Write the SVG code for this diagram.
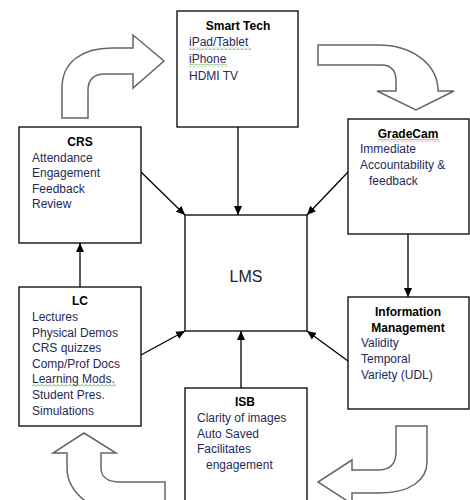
<svg xmlns="http://www.w3.org/2000/svg" width="470" height="500" viewBox="0 0 470 500">
<defs>
<style>
.box{fill:#fff;stroke:#000;stroke-width:1.3}
.blk{fill:#fff;stroke:#666;stroke-width:1.5;stroke-linejoin:miter}
.con{fill:none;stroke:#000;stroke-width:1.3}
.t{font-family:"Liberation Sans",Arial,sans-serif;font-size:12px;fill:#1f2a5a}
.h{font-family:"Liberation Sans",Arial,sans-serif;font-size:12px;font-weight:bold;fill:#000;text-anchor:middle}
.big{font-family:"Liberation Sans",Arial,sans-serif;font-size:16px;fill:#222;text-anchor:middle}
</style>
<marker id="ah" viewBox="0 0 10 10" refX="10" refY="5" markerWidth="9" markerHeight="9" markerUnits="userSpaceOnUse" orient="auto">
<path d="M0,0.5 L10,5 L0,9.5 Z" fill="#000"/>
</marker>
<pattern id="sqg" width="4" height="3" patternUnits="userSpaceOnUse">
<path d="M0,2.5 L2,0.5 L4,2.5" fill="none" stroke="#3c9a3c" stroke-width="0.8"/>
</pattern>
<pattern id="sqr" width="4" height="3" patternUnits="userSpaceOnUse">
<path d="M0,2.5 L2,0.5 L4,2.5" fill="none" stroke="#d03030" stroke-width="0.8"/>
</pattern>
</defs>
<rect width="470" height="500" fill="#fff"/>

<g id="block-arrows">
<path class="blk" d="M62,118 L62,88 C62,62 82,48 112,48 L133,48 L133,35 L164,61 L133,88 L133,74 L104,74 C95,74 88,79 88,90 L88,118 Z"/>
<path class="blk" d="M318,45 L378,45 C412,45 438,64 438,91 L454,91 L416,110 L377,91 L396,91 L396,80 C396,71 391,65 382,65 L318,65 Z"/>
<path class="blk" d="M84,433 L116,453 L101,453 L101,468 C101,477 108,482 120,482 L165,482 L165,510 L100,510 C80,500 67,486 67,468 L67,453 L53,453 Z"/>
<path class="blk" d="M396,426 L427,426 L427,462 C427,480 410,493 380,493 L352,493 L352,504 L318,482 L352,460 L352,470 L378,470 C390,470 396,464 396,452 Z"/>
</g>

<g id="connectors">
<path class="con" d="M238,127 L238,215" marker-end="url(#ah)"/>
<path class="con" d="M141,172 L185,215" marker-end="url(#ah)"/>
<path class="con" d="M348,172 L307,215" marker-end="url(#ah)"/>
<path class="con" d="M408,234 L408,297" marker-end="url(#ah)"/>
<path class="con" d="M80,287 L80,243" marker-end="url(#ah)"/>
<path class="con" d="M141,355 L185,331" marker-end="url(#ah)"/>
<path class="con" d="M241,388 L241,331" marker-end="url(#ah)"/>
<path class="con" d="M348,361 L307,331" marker-end="url(#ah)"/>
</g>

<g id="smart-tech">
<rect class="box" x="177" y="11" width="121" height="116"/>
<text class="h" x="238" y="30">Smart Tech</text>
<text class="t" x="189" y="46">iPad/Tablet</text>
<text class="t" x="189" y="63">iPhone</text>
<text class="t" x="189" y="80">HDMI TV</text>
<rect x="189" y="47" width="62" height="3" fill="url(#sqg)"/>
<rect x="189" y="64" width="38" height="3" fill="url(#sqg)"/>
</g>

<g id="crs">
<rect class="box" x="19" y="127" width="122" height="116"/>
<text class="h" x="80" y="146">CRS</text>
<text class="t" x="32" y="162">Attendance</text>
<text class="t" x="32" y="177">Engagement</text>
<text class="t" x="32" y="193">Feedback</text>
<text class="t" x="32" y="208">Review</text>
</g>

<g id="gradecam">
<rect class="box" x="348" y="119" width="121" height="115"/>
<text class="h" x="408" y="138">GradeCam</text>
<text class="t" x="360" y="153">Immediate</text>
<text class="t" x="360" y="169">Accountability &amp;</text>
<text class="t" x="369" y="185">feedback</text>
<rect x="378" y="139" width="61" height="3" fill="url(#sqr)"/>
</g>

<g id="lms">
<rect class="box" x="185" y="215" width="122" height="116"/>
<text class="big" x="246" y="282">LMS</text>
</g>

<g id="lc">
<rect class="box" x="19" y="287" width="122" height="139"/>
<text class="h" x="80" y="305">LC</text>
<text class="t" x="32" y="321">Lectures</text>
<text class="t" x="32" y="337">Physical Demos</text>
<text class="t" x="32" y="352">CRS quizzes</text>
<text class="t" x="32" y="368">Comp/Prof Docs</text>
<text class="t" x="32" y="383">Learning Mods.</text>
<text class="t" x="32" y="399">Student Pres.</text>
<text class="t" x="32" y="415">Simulations</text>
<rect x="32" y="384" width="84" height="3" fill="url(#sqg)"/>
</g>

<g id="information-management">
<rect class="box" x="348" y="297" width="121" height="112"/>
<text class="h" x="408" y="316">Information</text>
<text class="h" x="408" y="332">Management</text>
<text class="t" x="361" y="347">Validity</text>
<text class="t" x="361" y="363">Temporal</text>
<text class="t" x="361" y="379">Variety (UDL)</text>
</g>

<g id="isb">
<rect class="box" x="185" y="388" width="122" height="120"/>
<text class="h" x="245" y="406">ISB</text>
<text class="t" x="197" y="422">Clarity of images</text>
<text class="t" x="197" y="438">Auto Saved</text>
<text class="t" x="197" y="453">Facilitates</text>
<text class="t" x="206" y="469">engagement</text>
</g>
</svg>
